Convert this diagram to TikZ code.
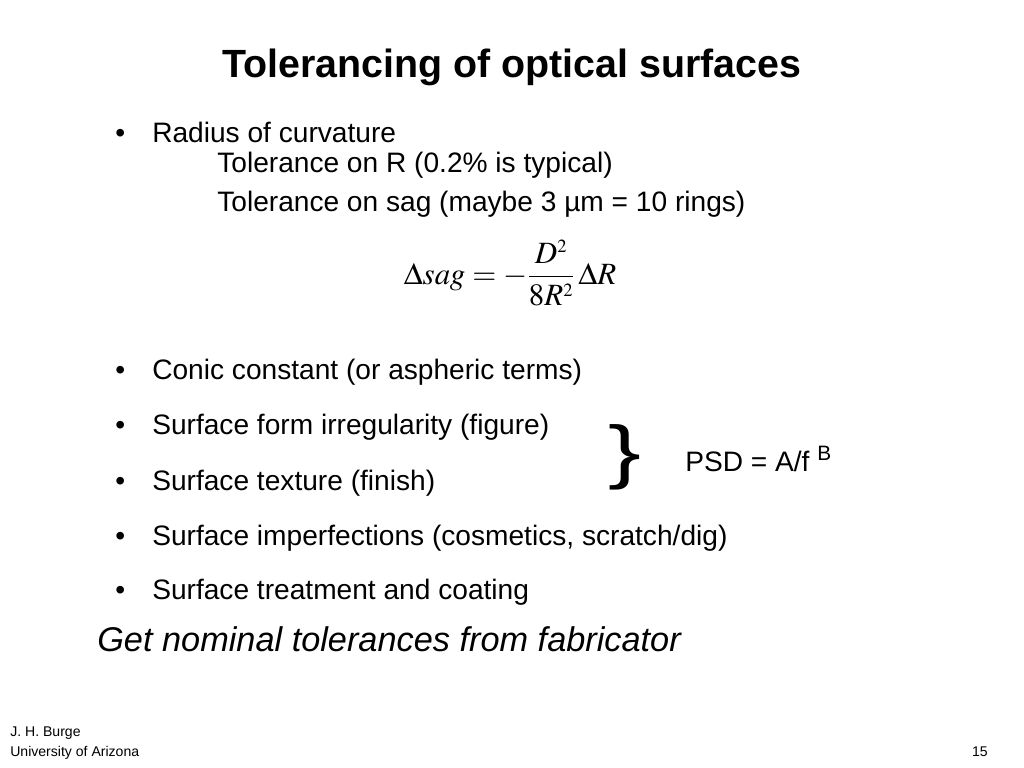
\documentclass[tikz,border=0pt]{standalone}
\usepackage{mathptmx}
\usepackage{fontspec}
\setmainfont{Liberation Sans}
\tikzset{
  bodytext/.style={anchor=base west, inner sep=0pt, font=\fontsize{20pt}{24pt}\selectfont},
  bulletdot/.style={anchor=base west, inner sep=0pt, font=\fontsize{20pt}{24pt}\selectfont},
  titletext/.style={anchor=base, inner sep=0pt, font=\fontsize{28pt}{32pt}\selectfont\bfseries},
  smalltext/.style={anchor=base west, inner sep=0pt, font=\fontsize{10pt}{12pt}\selectfont}
}

\begin{document}
\begin{tikzpicture}[x=0.025cm, y=-0.025cm]
    \useasboundingbox (0,0) rectangle (1024,768);
    \node[titletext] (title) at (512,78) {Tolerancing of optical surfaces};
    % bullets
    \foreach \y/\txt/\nm in {143/{Radius of curvature}/radius,
        379/{Conic constant (or aspheric terms)}/conic,
        434/{Surface form irregularity (figure)}/form,
        490/{Surface texture (finish)}/texture,
        545/{Surface imperfections (cosmetics, scratch/dig)}/cosmetic,
        599/{Surface treatment and coating}/coating}
    {
        \node[bulletdot] (dot-\nm) at (115,\y) {\textbullet};
        \node[bodytext] (\nm) at (152,\y) {\txt};
    }
    \node[bodytext] (tolR) at (217,173) {Tolerance on R (0.2\% is typical)};
    \node[bodytext] (tolsag) at (217,211) {Tolerance on sag (maybe 3 µm = 10 rings)};
    \node[inner sep=0pt, font=\fontsize{22pt}{26pt}\selectfont] (sag) at (510,273)
        {$\displaystyle \Delta sag = -\frac{D^{\scriptscriptstyle 2}}{8R^{\scriptscriptstyle 2}}\,\Delta R$};
    % PSD
    \node[inner sep=0pt, xscale=1.4, font=\fontsize{50pt}{56pt}\selectfont] (brace) at (625,457) {\}};
    \node[bodytext] (psd) at (685,471) {PSD = A/f \textsuperscript{B}};
    \node[anchor=base west, inner sep=0pt, font=\fontsize{24.4pt}{28pt}\selectfont\itshape] (nominal) at (97,651)
        {Get nominal tolerances from fabricator};
    % footer
    \node[smalltext] (author) at (10,736) {J. H. Burge};
    \node[smalltext] (univ) at (10,756) {University of Arizona};
    \node[smalltext, anchor=base east] (page) at (988,756) {15};
\end{tikzpicture}
\end{document}
